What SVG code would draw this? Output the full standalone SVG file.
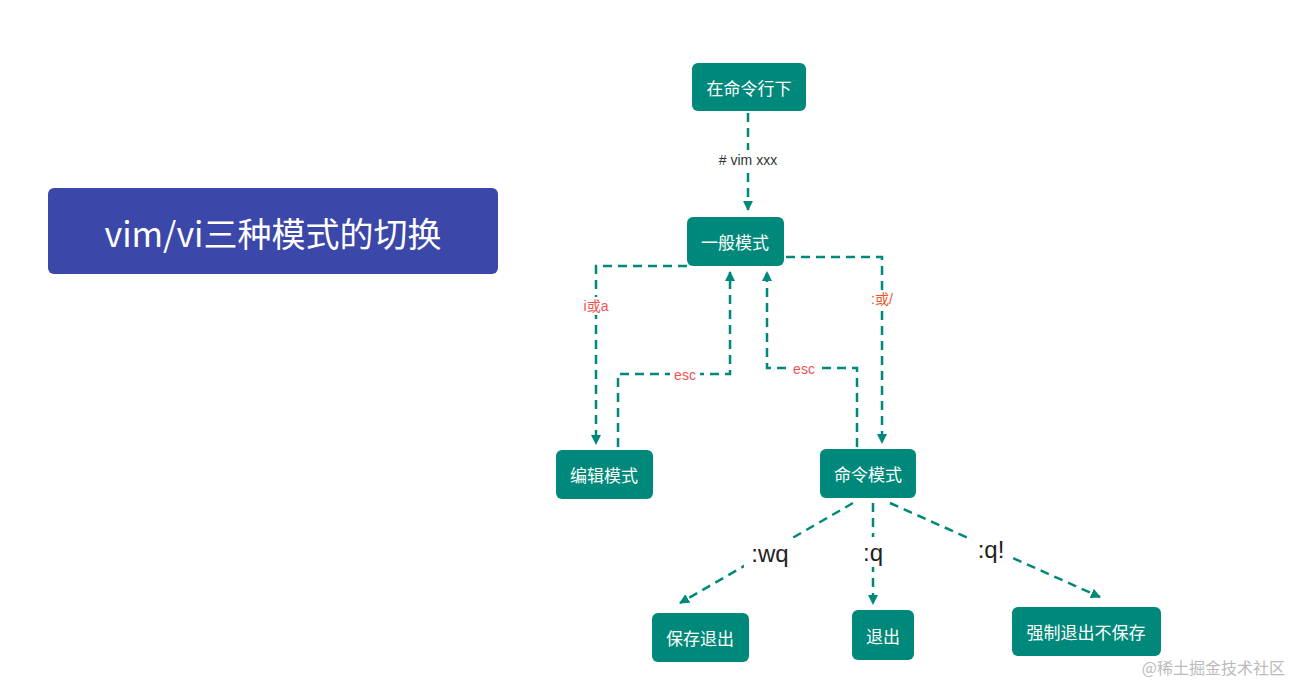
<svg xmlns="http://www.w3.org/2000/svg" width="1291" height="691" viewBox="0 0 1291 691">
<style>
.n rect{fill:#00897b}
.n text{fill:#fff;font-family:"Noto Sans CJK SC",sans-serif;font-size:17px;text-anchor:middle;dominant-baseline:central}
.c path{fill:none;stroke:#00897b;stroke-width:2.5;stroke-dasharray:9 6;marker-end:url(#a)}
.lb{fill:#fff}
.r{fill:#ef5350;font-family:"Liberation Sans","Noto Sans CJK SC",sans-serif;font-size:14px;text-anchor:middle;dominant-baseline:central}
.k{fill:#222;font-family:"Liberation Sans",sans-serif;font-size:24px;text-anchor:middle;dominant-baseline:central}
</style>
<defs><marker id="a" viewBox="0 0 10 10" refX="9" refY="5" markerWidth="4" markerHeight="4" orient="auto"><path d="M0,0L10,5L0,10z" fill="#00897b"/></marker></defs>
<rect width="1291" height="691" fill="#fff"/>
<g id="title"><rect x="48" y="188" width="450" height="86" rx="6" fill="#3b47a9"/><text x="273" y="232" fill="#fff" font-family="Noto Sans CJK SC,sans-serif" font-size="34" text-anchor="middle" dominant-baseline="central">vim/vi三种模式的切换</text></g>
<g class="c" id="connectors">
<path d="M748,113V210"/>
<path d="M687,266H596V444"/>
<path d="M618,447V374H730V272"/>
<path d="M857,447V368H767V272"/>
<path d="M786,257H882V443"/>
<path d="M853,503L680,603"/>
<path d="M873,503V604"/>
<path d="M890,503L1100,597"/>
</g>
<g id="labels">
<rect class="lb" x="706" y="150" width="84" height="20"/><text x="748" y="160" font-family="Liberation Sans,sans-serif" font-size="14" fill="#333" text-anchor="middle" dominant-baseline="central"># vim xxx</text>
<rect class="lb" x="578" y="297" width="36" height="18"/><text class="r" x="596" y="306">i或a</text>
<rect class="lb" x="670" y="366" width="30" height="18"/><text class="r" x="685" y="375">esc</text>
<rect class="lb" x="789" y="360" width="30" height="18"/><text class="r" x="804" y="369">esc</text>
<rect class="lb" x="866" y="290" width="32" height="18"/><text class="r" x="882" y="299" fill="#e65100" style="fill:#e8572a">:或/</text>
<rect class="lb" x="744" y="538" width="52" height="30"/><text class="k" x="770" y="553">:wq</text>
<rect class="lb" x="858" y="537" width="30" height="30"/><text class="k" x="873" y="552">:q</text>
<rect class="lb" x="972" y="534" width="38" height="30"/><text class="k" x="991" y="549">:q!</text>
</g>
<g class="n" id="n1"><rect x="692" y="63" width="114" height="48" rx="6"/><text x="749" y="87">在命令行下</text></g>
<g class="n" id="n2"><rect x="687" y="217" width="97" height="49" rx="6"/><text x="735" y="241">一般模式</text></g>
<g class="n" id="n3"><rect x="556" y="450" width="97" height="49" rx="6"/><text x="604" y="474">编辑模式</text></g>
<g class="n" id="n4"><rect x="820" y="449" width="96" height="49" rx="6"/><text x="868" y="473">命令模式</text></g>
<g class="n" id="n5"><rect x="652" y="613" width="97" height="49" rx="6"/><text x="700" y="637">保存退出</text></g>
<g class="n" id="n6"><rect x="852" y="610" width="62" height="50" rx="6"/><text x="883" y="635">退出</text></g>
<g class="n" id="n7"><rect x="1012" y="607" width="149" height="49" rx="6"/><text x="1086" y="631">强制退出不保存</text></g>
<text x="1285" y="674" fill="#bbb" font-family="Noto Sans CJK SC,sans-serif" font-size="16" text-anchor="end">@稀土掘金技术社区</text>
</svg>
